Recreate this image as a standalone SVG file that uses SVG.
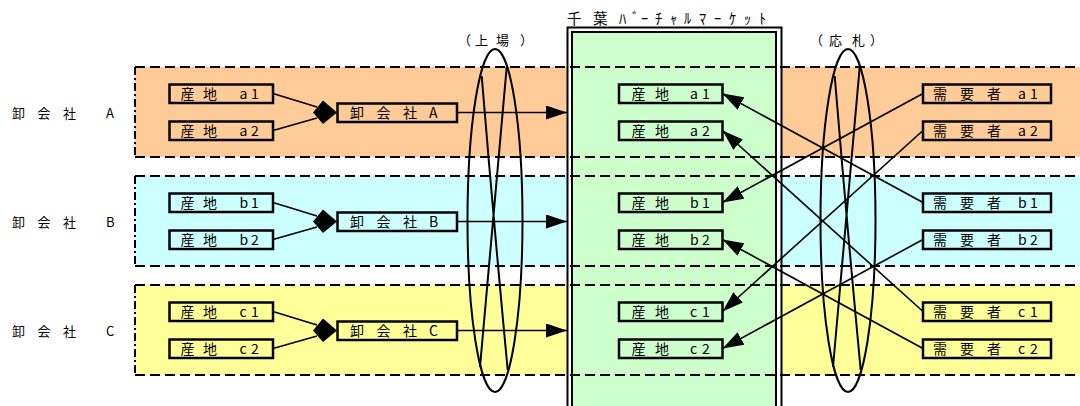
<svg xmlns="http://www.w3.org/2000/svg" width="1080" height="406" viewBox="0 0 1080 406">
<style>
.t{font-family:"Noto Sans CJK JP","Noto Sans",sans-serif;font-size:14px;fill:#000}
.lbl{font-family:"Noto Sans CJK JP","Noto Sans",sans-serif;font-size:13px;fill:#000}
.ttl{font-family:"Noto Sans CJK JP","Noto Sans",sans-serif;font-size:14.5px;fill:#000}
.box{stroke:#000;stroke-width:2.5}
.edge{stroke:#000;stroke-width:2;stroke-dasharray:10 5;fill:none}
.side{stroke:#000;stroke-width:2;stroke-dasharray:8 3 2 3;fill:none}
.conn{stroke:#000;stroke-width:1.6;fill:none}
.ell{stroke:#000;stroke-width:2;fill:none}
</style>
<defs>
<marker id="arr" viewBox="0 0 21 14" markerWidth="21" markerHeight="14" refX="21" refY="7" orient="auto" markerUnits="userSpaceOnUse">
<path d="M0,0 L21,7 L0,14 z" fill="#000"/>
</marker>
<g id="ellshape">
<ellipse cx="0" cy="220.5" rx="27.5" ry="171.5"/>
<path d="M-13.3,76 Q-1.5,220 12.7,370 M11.7,67 Q-1.5,220 -15,367"/>
</g>
</defs>

<g id="bands">
<rect x="135" y="67" width="945" height="90" fill="#FFCC99"/>
<rect x="135" y="176" width="945" height="90" fill="#CCFFFF"/>
<rect x="135" y="285" width="945" height="90" fill="#FFFF99"/>
</g>

<g id="market">
<rect x="567.5" y="27.5" width="214" height="390" fill="#fff" stroke="#000" stroke-width="2"/>
<rect x="572" y="32" width="204" height="390" fill="#CCFFCC" stroke="#000" stroke-width="2"/>
<text class="ttl" x="567 593 619 632 641 655 670 684 699 714 729 744 759" y="24">千葉ﾊﾞｰﾁｬﾙﾏｰｹｯﾄ</text>
</g>

<g id="band-edges">
<path class="edge" d="M135,67 H1080 M135,157 H1080 M135,176 H1080 M135,266 H1080 M135,285 H1080 M135,375 H1080"/>
<path class="side" d="M135,67 V157 M135,176 V266 M135,285 V375"/>
</g>

<g id="labels">
<text class="lbl" x="12 37.5 63 106" y="117.5">卸会社A</text>
<text class="lbl" x="12 37.5 63 106" y="226.5">卸会社B</text>
<text class="lbl" x="12 37.5 63 106" y="335.5">卸会社C</text>
<text class="lbl" x="458 475 496 520" y="45">（上場）</text>
<text class="lbl" x="810 829 852 870" y="45">（応札）</text>
</g>

<g id="connectors">
<path class="conn" d="M273,93.5 L317,107 M273,130.5 L317,118"/>
<path class="conn" d="M273,202.5 L317,216 M273,239.5 L317,227"/>
<path class="conn" d="M273,311.5 L317,325 M273,348.5 L317,336"/>
<polygon points="313,112.5 323,100.5 337,112.5 323,124" fill="#000"/>
<polygon points="313,221.5 323,209.5 337,221.5 323,233" fill="#000"/>
<polygon points="313,330.5 323,318.5 337,330.5 323,342" fill="#000"/>
<path class="conn" d="M457,112.5 H567" marker-end="url(#arr)"/>
<path class="conn" d="M457,221.5 H567" marker-end="url(#arr)"/>
<path class="conn" d="M457,330.5 H567" marker-end="url(#arr)"/>
<path class="conn" d="M923,93.5 L722.5,202.5" marker-end="url(#arr)"/>
<path class="conn" d="M923,130.5 L722.5,311.5" marker-end="url(#arr)"/>
<path class="conn" d="M923,202.5 L722.5,93.5" marker-end="url(#arr)"/>
<path class="conn" d="M923,239.5 L722.5,348.5" marker-end="url(#arr)"/>
<path class="conn" d="M923,311.5 L722.5,130.5" marker-end="url(#arr)"/>
<path class="conn" d="M923,348.5 L722.5,239.5" marker-end="url(#arr)"/>
</g>

<g id="src-a1"><rect class="box" x="169.5" y="84.5" width="103.5" height="18.5" fill="#FFCC99"/><text class="t" x="180.5 203 239.5 251" y="99">産地a1</text></g>
<g id="src-a2"><rect class="box" x="169.5" y="121.5" width="103.5" height="18.5" fill="#FFCC99"/><text class="t" x="180.5 203 239.5 251" y="136">産地a2</text></g>
<g id="src-b1"><rect class="box" x="169.5" y="193.5" width="103.5" height="18.5" fill="#CCFFFF"/><text class="t" x="180.5 203 239.5 251" y="208">産地b1</text></g>
<g id="src-b2"><rect class="box" x="169.5" y="230.5" width="103.5" height="18.5" fill="#CCFFFF"/><text class="t" x="180.5 203 239.5 251" y="245">産地b2</text></g>
<g id="src-c1"><rect class="box" x="169.5" y="302.5" width="103.5" height="18.5" fill="#FFFF99"/><text class="t" x="180.5 203 239.5 251" y="317">産地c1</text></g>
<g id="src-c2"><rect class="box" x="169.5" y="339.5" width="103.5" height="18.5" fill="#FFFF99"/><text class="t" x="180.5 203 239.5 251" y="354">産地c2</text></g>

<g id="wh-a"><rect class="box" x="337.5" y="103.5" width="119.5" height="18.5" fill="#FFCC99"/><text class="t" x="350 376.5 403 429" y="118">卸会社A</text></g>
<g id="wh-b"><rect class="box" x="337.5" y="212.5" width="119.5" height="18.5" fill="#CCFFFF"/><text class="t" x="350 376.5 403 429" y="227">卸会社B</text></g>
<g id="wh-c"><rect class="box" x="337.5" y="321.5" width="119.5" height="18.5" fill="#FFFF99"/><text class="t" x="350 376.5 403 429" y="336">卸会社C</text></g>

<g id="mk-a1"><rect class="box" x="619" y="84.5" width="103.5" height="18.5" fill="#CCFFCC"/><text class="t" x="631.5 655 690 702" y="99">産地a1</text></g>
<g id="mk-a2"><rect class="box" x="619" y="121.5" width="103.5" height="18.5" fill="#CCFFCC"/><text class="t" x="631.5 655 690 702" y="136">産地a2</text></g>
<g id="mk-b1"><rect class="box" x="619" y="193.5" width="103.5" height="18.5" fill="#CCFFCC"/><text class="t" x="631.5 655 690 702" y="208">産地b1</text></g>
<g id="mk-b2"><rect class="box" x="619" y="230.5" width="103.5" height="18.5" fill="#CCFFCC"/><text class="t" x="631.5 655 690 702" y="245">産地b2</text></g>
<g id="mk-c1"><rect class="box" x="619" y="302.5" width="103.5" height="18.5" fill="#CCFFCC"/><text class="t" x="631.5 655 690 702" y="317">産地c1</text></g>
<g id="mk-c2"><rect class="box" x="619" y="339.5" width="103.5" height="18.5" fill="#CCFFCC"/><text class="t" x="631.5 655 690 702" y="354">産地c2</text></g>

<g id="dm-a1"><rect class="box" x="923" y="84.5" width="128" height="18.5" fill="#FFCC99"/><text class="t" x="933 960 987 1018 1030" y="99">需要者a1</text></g>
<g id="dm-a2"><rect class="box" x="923" y="121.5" width="128" height="18.5" fill="#FFCC99"/><text class="t" x="933 960 987 1018 1030" y="136">需要者a2</text></g>
<g id="dm-b1"><rect class="box" x="923" y="193.5" width="128" height="18.5" fill="#CCFFFF"/><text class="t" x="933 960 987 1018 1030" y="208">需要者b1</text></g>
<g id="dm-b2"><rect class="box" x="923" y="230.5" width="128" height="18.5" fill="#CCFFFF"/><text class="t" x="933 960 987 1018 1030" y="245">需要者b2</text></g>
<g id="dm-c1"><rect class="box" x="923" y="302.5" width="128" height="18.5" fill="#FFFF99"/><text class="t" x="933 960 987 1018 1030" y="317">需要者c1</text></g>
<g id="dm-c2"><rect class="box" x="923" y="339.5" width="128" height="18.5" fill="#FFFF99"/><text class="t" x="933 960 987 1018 1030" y="354">需要者c2</text></g>

<g id="listing" class="ell"><use href="#ellshape" x="495"/></g>
<g id="bidding" class="ell"><use href="#ellshape" x="848"/></g>
</svg>
